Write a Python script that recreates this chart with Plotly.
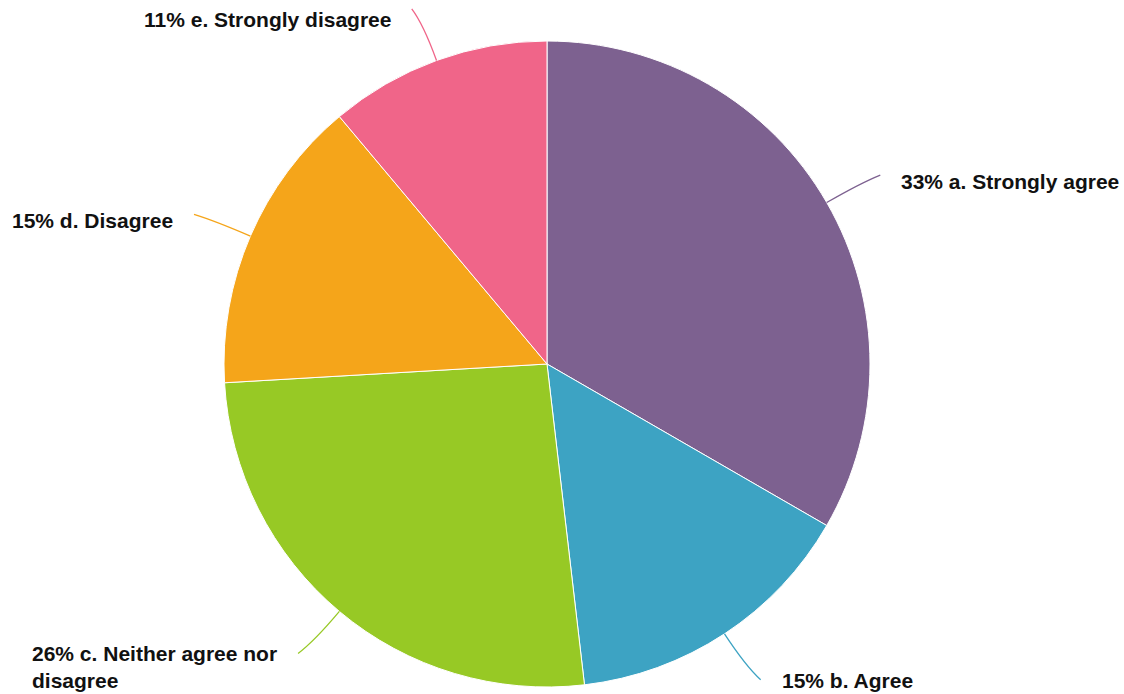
import math
import textwrap
import plotly.graph_objects as go

labels = ["a. Strongly agree", "b. Agree", "c. Neither agree nor disagree",
          "d. Disagree", "e. Strongly disagree"]
counts = [9, 4, 7, 4, 3]
colors = ["#7D6190", "#3DA3C3", "#97C925", "#F5A51A", "#F06589"]

W, H = 1124, 694
cx, cy, R = 547, 364, 323  # pie centre / radius in px
FS = 21
LINE_H = 26

dom_x = [(cx - R) / W, (cx + R) / W]
dom_y = [1 - (cy + R) / H, 1 - (cy - R) / H]

fig = go.Figure(go.Pie(
    labels=labels, values=counts, sort=False, direction="clockwise", rotation=0,
    marker=dict(colors=colors, line=dict(color="white", width=1)),
    textinfo="none", hoverinfo="label+percent", showlegend=False,
    domain=dict(x=dom_x, y=dom_y),
))

def px2paper(x, y):
    return x / W, 1 - y / H

total = sum(counts)
cum = 0
shapes, annotations = [], []
for lab, v, col in zip(labels, counts, colors):
    mid = (cum + v / 2) / total * 2 * math.pi
    cum += v
    s, c = math.sin(mid), math.cos(mid)
    right = s >= 0
    sx, sy = cx + R * s, cy - R * c
    kx, ky = cx + R * 1.12 * s, cy - R * 1.12 * c
    ex, ey = cx + R * 1.17 * s + (6 if right else -6), cy - R * 1.17 * c
    p0, p1, p2 = px2paper(sx, sy), px2paper(kx, ky), px2paper(ex, ey)
    shapes.append(dict(type="path", xref="paper", yref="paper",
                       path=f"M {p0[0]} {p0[1]} Q {p1[0]} {p1[1]} {p2[0]} {p2[1]}",
                       line=dict(color=col, width=1.3)))
    pct = round(v / total * 100)
    lines = textwrap.wrap(f"{pct}% {lab}", width=24)
    n = len(lines)
    text = "<br>".join(lines)
    tx = ex + (20 if right else -20)
    first = min(max(ey + 6, 20), H - 14 - (n - 1) * LINE_H)
    ty = first + (n - 1) * LINE_H / 2
    ax_, ay_ = px2paper(tx, ty)
    annotations.append(dict(x=ax_, y=ay_, xref="paper", yref="paper",
                            text=f"<b>{text}</b>", showarrow=False,
                            xanchor="left" if right else "right", yanchor="middle",
                            align="left", borderpad=0,
                            font=dict(family="Liberation Sans, Arial, sans-serif",
                                      size=FS, color="#111111")))

fig.update_layout(width=W, height=H, margin=dict(l=0, r=0, t=0, b=0),
                  paper_bgcolor="white", plot_bgcolor="white",
                  shapes=shapes, annotations=annotations)

fig.write_html("out.html", config={"displayModeBar": False},
               post_script="document.body.style.margin='0';document.body.style.overflow='hidden';")
